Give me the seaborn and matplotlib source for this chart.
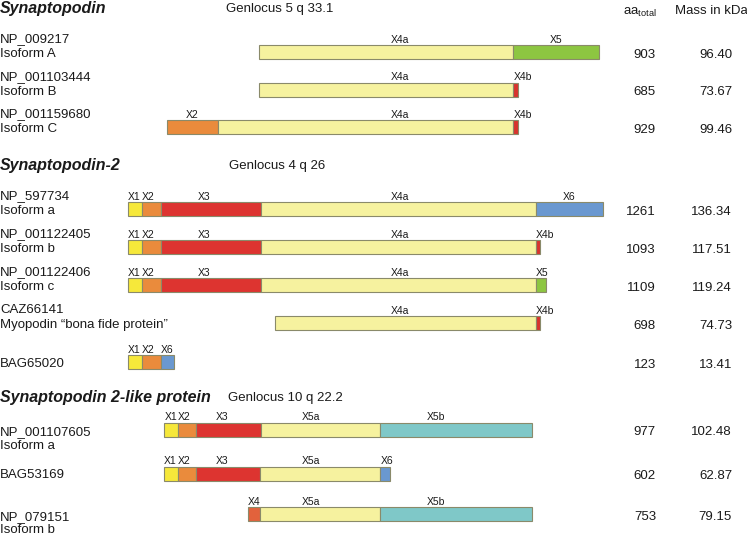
import matplotlib
matplotlib.use("Agg")
import matplotlib.pyplot as plt
import seaborn as sns

# protein families
group_names = ["Synaptopodin", "Synaptopodin-2", "Synaptopodin 2-like protein"]
group_loci = ["Genlocus 5 q 33.1", "Genlocus 4 q 26", "Genlocus 10 q 22.2"]

# one entry per protein
row_group = [0, 0, 0, 1, 1, 1, 1, 1, 2, 2, 2]
row_ids = ["NP_009217", "NP_001103444", "NP_001159680", "NP_597734", "NP_001122405",
           "NP_001122406", "CAZ66141", "BAG65020", "NP_001107605", "BAG53169", "NP_079151"]
row_subs = ["Isoform A", "Isoform B", "Isoform C", "Isoform a", "Isoform b", "Isoform c",
            "Myopodin \u201cbona fide protein\u201d", "", "Isoform a", "", "Isoform b"]
aa_total = [903, 685, 929, 1261, 1093, 1109, 698, 123, 977, 602, 753]
mass_kda = [96.40, 73.67, 99.46, 136.34, 117.51, 119.24, 74.73, 13.41, 102.48, 62.87, 79.15]

# exon composition and exon boundaries (drawing scale units)
row_exons = [
    ["X4a", "X5"],
    ["X4a", "X4b"],
    ["X2", "X4a", "X4b"],
    ["X1", "X2", "X3", "X4a", "X6"],
    ["X1", "X2", "X3", "X4a", "X4b"],
    ["X1", "X2", "X3", "X4a", "X5"],
    ["X4a", "X4b"],
    ["X1", "X2", "X6"],
    ["X1", "X2", "X3", "X5a", "X5b"],
    ["X1", "X2", "X3", "X5a", "X6"],
    ["X4", "X5a", "X5b"],
]
row_bounds = [
    [259, 513, 599],
    [259, 513, 517.5],
    [167, 218, 513, 517.5],
    [127.5, 141.5, 160.5, 260.5, 535.5, 603],
    [127.5, 141.5, 160.5, 260.5, 535.5, 540],
    [127.5, 141.5, 160.5, 260.5, 535.5, 546],
    [274.5, 535.5, 540],
    [127.5, 141.5, 160.5, 174],
    [164, 177.5, 196, 260.5, 380, 532],
    [163.5, 177.5, 195.5, 260, 380, 389.5],
    [247.5, 260, 380, 532],
]

exon_colors = {
    "X1": "#f6e83a", "X2": "#ea8b3c", "X3": "#dd3430", "X4": "#e2623c",
    "X4a": "#f6f29f", "X4b": "#d8332d", "X5": "#8dc641", "X5a": "#f6f29f",
    "X5b": "#7fc8c8", "X6": "#6a98d0",
}

# layout
row_y = [52, 89.5, 127, 209, 247, 285, 323, 362, 429.5, 473.5, 514]
header_y = [7, 164, 396]
locus_x = [226, 229, 228.5]
id_above = [True, True, False]  # id line sits above the bar line or on it
label_fixed_x = {"X4a": 400, "X5a": 311, "X5b": 436}
label_nudge = {"X3": -6}
bar_h = 14
aa_x, mass_x = 656, 732

sns.set_style("white")
plt.rcParams["font.family"] = ["Liberation Sans", "DejaVu Sans"]

fig = plt.figure(figsize=(7.47, 5.34), dpi=100)
ax = fig.add_axes([0, 0, 1, 1])
ax.set_xlim(0, 747)
ax.set_ylim(534, 0)
ax.axis("off")


def put(x, y, s, size=9.5, **kw):
    # place text by the centre of its capitals
    ax.text(x, y + 0.716 * size * 100 / 72 / 2, s, fontsize=size, va="baseline",
            color="#1a1a1a", **kw)


for g, name in enumerate(group_names):
    put(0, header_y[g], name, size=11.5, fontweight="bold", fontstyle="italic")
    put(locus_x[g], header_y[g], group_loci[g])

put(aa_x + 1, 10, r"aa$_{\mathregular{total}}$", ha="right")
put(675, 9, "Mass in kDa")

for i, y in enumerate(row_y):
    b = row_bounds[i]
    for j, ex in enumerate(row_exons[i]):
        ax.barh(y, b[j + 1] - b[j], left=b[j], height=bar_h, color=exon_colors[ex],
                edgecolor="#8a8a6a", linewidth=0.8)
        w = b[j + 1] - b[j]
        ly = y - bar_h / 2 - 6
        if w < 20:
            put(b[j] + 0.5, ly, ex, size=7.5, ha="left")
        else:
            lx = label_fixed_x.get(ex, (b[j] + b[j + 1]) / 2 + label_nudge.get(ex, 0))
            put(lx, ly, ex, size=7.5, ha="center")

    if row_subs[i] == "":
        put(0, y, row_ids[i])
    elif id_above[row_group[i]]:
        put(0, y - 14.5, row_ids[i])
        put(0, y + 0.5, row_subs[i])
    else:
        put(0, y + 1, row_ids[i])
        put(0, y + 14.5, row_subs[i])

    put(aa_x, y + 1, str(aa_total[i]), ha="right")
    put(mass_x, y + 1, f"{mass_kda[i]:.2f}", ha="right")

fig.savefig("out.png", dpi=100)
